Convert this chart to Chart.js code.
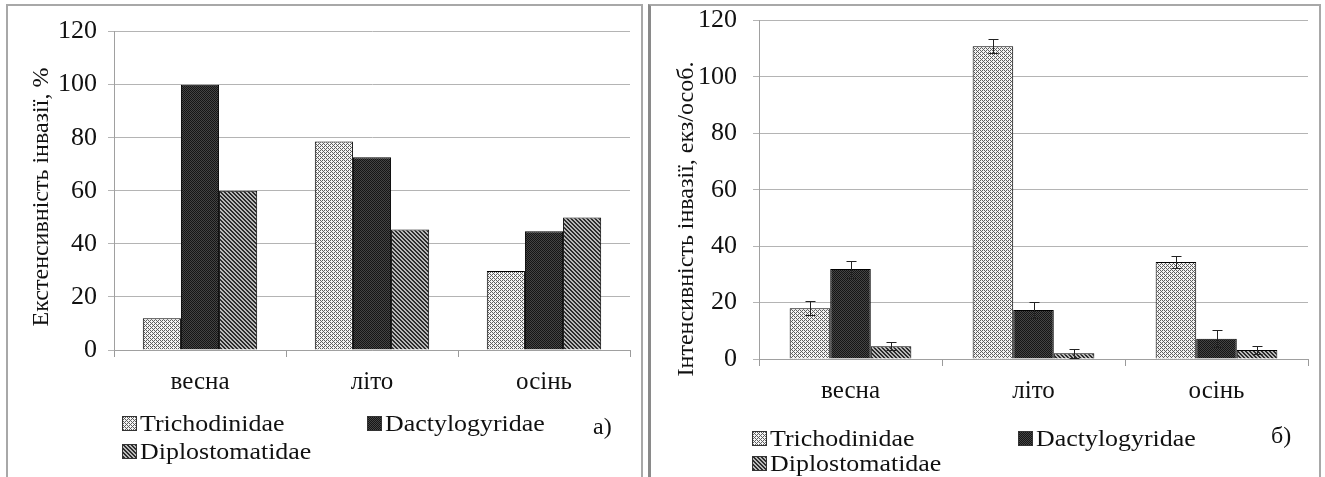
<!DOCTYPE html>
<html lang="uk">
<head>
<meta charset="utf-8">
<title>Екстенсивність та інтенсивність інвазії</title>
<script src="https://cdn.jsdelivr.net/npm/chart.js@4.4.1/dist/chart.umd.min.js"></script>
<style>
  html, body { margin: 0; padding: 0; background: #fff; }
  body { width: 1325px; height: 477px; position: relative; overflow: hidden;
         font-family: "Liberation Serif", "Times New Roman", serif; color: #111; }
  .panel { position: absolute; box-sizing: border-box; border: 2px solid #a8a8a8; background: #fff; }
  #panel-a { left: 6px; top: 4px; width: 637px; height: 490px; }
  #panel-b { left: 648px; top: 4px; width: 673px; height: 490px; border-left: 3px solid #8a8a8a; }
  .wrap { position: absolute; }
  #wrap-a { left: 9px; top: 5px; }
  #wrap-b { left: 651px; top: -11px; }
  .leg { position: absolute; font-size: 24px; line-height: 24px; height: 24px; white-space: nowrap;
         display: flex; align-items: center; }
  .leg canvas { margin-right: 3px; }
  .leg span { display: inline-block; transform: scaleX(1.08); transform-origin: left center; }
  .mark { position: absolute; font-size: 24px; line-height: 24px; }
</style>
</head>
<body>
<div class="panel" id="panel-a"></div>
<div class="panel" id="panel-b"></div>

<div class="wrap" id="wrap-a"><canvas id="chart-a" width="630" height="470"></canvas></div>
<div class="wrap" id="wrap-b"><canvas id="chart-b" width="667" height="480"></canvas></div>

<div class="leg" style="left:122px; top:411px;"><canvas class="sw" data-k="0" width="15" height="15"></canvas><span>Trichodinidae</span></div>
<div class="leg" style="left:367px; top:411px;"><canvas class="sw" data-k="1" width="15" height="15"></canvas><span>Dactylogyridae</span></div>
<div class="leg" style="left:122px; top:439px;"><canvas class="sw" data-k="2" width="15" height="15"></canvas><span>Diplostomatidae</span></div>
<div class="mark" style="left:593px; top:414px;">а)</div>

<div class="leg" style="left:752px; top:426px;"><canvas class="sw" data-k="0" width="15" height="15"></canvas><span>Trichodinidae</span></div>
<div class="leg" style="left:1018px; top:426px;"><canvas class="sw" data-k="1" width="15" height="15"></canvas><span>Dactylogyridae</span></div>
<div class="leg" style="left:752px; top:451px;"><canvas class="sw" data-k="2" width="15" height="15"></canvas><span>Diplostomatidae</span></div>
<div class="mark" style="left:1271px; top:423px;">б)</div>

<script>
const seasons = ['весна', 'літо', 'осінь'];
const families = ['Trichodinidae', 'Dactylogyridae', 'Diplostomatidae'];

// а) екстенсивність інвазії, %
const extTrich = [12, 78.6, 29.8];
const extDact = [100, 72.6, 44.8];
const extDiplo = [60, 45.4, 49.9];

// б) інтенсивність інвазії, екз/особ.
const intTrich = [18.0, 110.9, 34.4];
const intDact = [31.9, 17.4, 7.2];
const intDiplo = [4.5, 2.0, 3.2];
const intTrichErr = [2.5, 2.4, 2.0];
const intDactErr = [3.0, 2.9, 3.0];
const intDiploErr = [1.4, 1.7, 1.5];

const yMin = 0, yMax = 120, yStep = 20;

const FONT = '"Liberation Serif", "Times New Roman", serif';

// hatch tiles
const tile = (size, fn) => {
    const c = document.createElement('canvas');
    c.width = c.height = size;
    const g = c.getContext('2d');
    for (let y = 0; y < size; y++) {
        for (let x = 0; x < size; x++) {
            g.fillStyle = fn(x, y);
            g.fillRect(x, y, 1, 1);
        }
    }
    return c;
};
const tiles = [
    tile(4, (x, y) => ((x + y) % 4 === 0 || (x - y + 4) % 4 === 0) ? '#5e5e5e' : '#f4f4f4'),
    tile(2, (x, y) => (x + y) % 2 ? '#444444' : '#151515'),
    tile(4, (x, y) => ((x - y + 4) % 4 < 2) ? '#2c2c2c' : '#b8b8b8')
];

document.querySelectorAll('canvas.sw').forEach(c => {
    const g = c.getContext('2d');
    g.fillStyle = g.createPattern(tiles[+c.dataset.k], 'repeat');
    g.fillRect(0, 0, c.width, c.height);
    g.strokeStyle = '#333';
    g.lineWidth = 1;
    g.strokeRect(0.5, 0.5, c.width - 1, c.height - 1);
});

const errorBars = {
    id: 'errorBars',
    afterDatasetsDraw(chart, args, opts) {
        if (!opts.values) return;
        const ctx = chart.ctx;
        const y = chart.scales.y;
        ctx.save();
        ctx.strokeStyle = '#222';
        ctx.lineWidth = 1;
        opts.values.forEach((errs, di) => {
            const meta = chart.getDatasetMeta(di);
            meta.data.forEach((bar, i) => {
                const v = chart.data.datasets[di].data[i];
                const top = Math.round(y.getPixelForValue(v + errs[i])) + 0.5;
                const bot = Math.round(y.getPixelForValue(v - errs[i])) + 0.5;
                const x = Math.round(bar.x) + 0.5;
                ctx.beginPath();
                ctx.moveTo(x, top); ctx.lineTo(x, bot);
                ctx.moveTo(x - 5, top); ctx.lineTo(x + 5, top);
                ctx.moveTo(x - 5, bot); ctx.lineTo(x + 5, bot);
                ctx.stroke();
            });
        });
        ctx.restore();
    }
};

const sideTitle = {
    id: 'sideTitle',
    afterDraw(chart, args, opts) {
        if (!opts.text) return;
        const ctx = chart.ctx;
        ctx.save();
        ctx.translate(opts.x, opts.y);
        ctx.rotate(-Math.PI / 2);
        ctx.font = '24px ' + FONT;
        ctx.fillStyle = '#111';
        ctx.textAlign = 'center';
        ctx.textBaseline = 'middle';
        ctx.fillText(opts.text, 0, 0);
        ctx.restore();
    }
};

const makeChart = (id, series, cfg) => {
    const ctx = document.getElementById(id).getContext('2d');
    return new Chart(ctx, {
        type: 'bar',
        plugins: [errorBars, sideTitle],
        data: {
            labels: seasons,
            datasets: series.map((data, i) => ({
                label: families[i],
                data: data,
                backgroundColor: ctx.createPattern(tiles[i], 'repeat'),
                borderColor: '#000',
                borderWidth: 1,
                barPercentage: 1,
                categoryPercentage: 0.665
            }))
        },
        options: {
            responsive: false,
            animation: false,
            devicePixelRatio: 1,
            layout: { padding: cfg.padding },
            plugins: {
                legend: { display: false },
                tooltip: { enabled: false },
                errorBars: { values: cfg.errors },
                sideTitle: cfg.title
            },
            scales: {
                x: {
                    grid: { drawOnChartArea: false, drawTicks: true, tickLength: 7, color: '#9a9a9a', offset: true },
                    border: { color: '#a0a0a0' },
                    ticks: { font: { family: FONT, size: 25 }, color: '#111', padding: 10 },
                    afterFit: s => { s.height = cfg.xHeight; }
                },
                y: {
                    min: yMin,
                    max: yMax,
                    grid: { color: '#b4b4b4', tickLength: 6 },
                    border: { color: '#a0a0a0' },
                    ticks: { stepSize: yStep, font: { family: FONT, size: 26 }, color: '#111', padding: cfg.tickPad },
                    afterFit: s => { s.width = cfg.yWidth; }
                }
            }
        }
    });
};

makeChart('chart-a', [extTrich, extDact, extDiplo], {
    padding: { top: 0, right: 9, bottom: 0, left: 0 },
    yWidth: 105, xHeight: 125, tickPad: 11,
    title: { text: 'Екстенсивність інвазії, %', x: 33, y: 192 }
});

makeChart('chart-b', [intTrich, intDact, intDiplo], {
    padding: { top: 0, right: 10, bottom: 0, left: 0 },
    yWidth: 108, xHeight: 110, tickPad: 16,
    errors: [intTrichErr, intDactErr, intDiploErr],
    title: { text: 'Інтенсивність інвазії, екз/особ.', x: 36, y: 230 }
});
</script>
</body>
</html>
